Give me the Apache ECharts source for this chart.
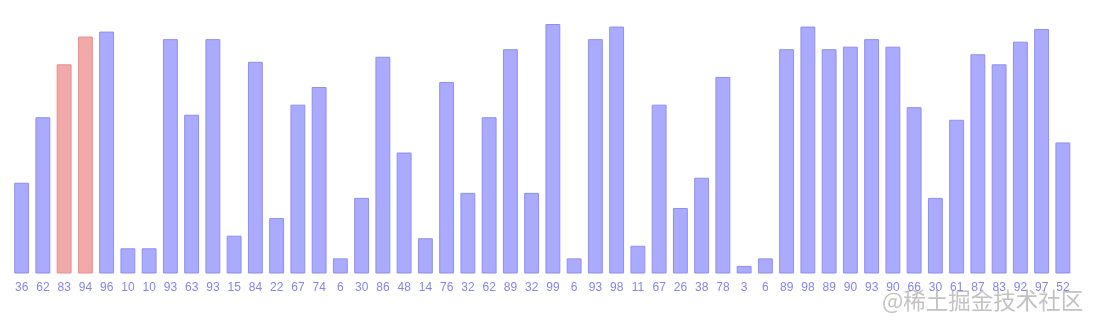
<!DOCTYPE html>
<html><head><meta charset="utf-8">
<script src="https://cdn.jsdelivr.net/npm/echarts@6/dist/echarts.min.js"></script>
<style>html,body{margin:0;padding:0;background:#fff}#c{width:1094px;height:323px}</style>
</head><body><div id="c"></div>
<script>
const values = [36,62,83,94,96,10,10,93,63,93,15,84,22,67,74,6,30,86,48,14,76,32,62,89,32,99,6,93,98,11,67,26,38,78,3,6,89,98,89,90,93,90,66,30,61,87,83,92,97,52];
const categories = values.map((v, i) => String(i));
const highlighted = [2, 3];
const watermark = '@稀土掘金技术社区';

const chart = echarts.init(document.getElementById('c'));
chart.setOption({
  animation: false,
  grid: { left: 11, right: 20.5, top: 21.5, bottom: 49.5 },
  xAxis: {
    type: 'category',
    data: categories,
    axisLine: { show: false },
    axisTick: { show: false },
    axisLabel: {
      interval: 0, margin: 8, fontSize: 12, color: '#8585ea',
      fontFamily: 'Helvetica, Arial, sans-serif',
      formatter: (v, i) => String(values[i])
    }
  },
  yAxis: { type: 'value', min: 0, max: 100, show: false, splitLine: { show: false } },
  series: [{
    type: 'bar',
    barCategoryGap: '30%',
    data: values.map((v, i) => highlighted.includes(i)
      ? { value: v, itemStyle: { color: '#f2a9a9', borderColor: '#e88c8c', borderWidth: 1 } }
      : { value: v }),
    itemStyle: { color: '#aaaaff', borderColor: '#8f8fee', borderWidth: 1 }
  }],
  graphic: [{
    type: 'text', left: 882, top: 289,
    style: { text: watermark, fontSize: 22.5, fill: '#c2c2c2', fontFamily: 'Noto Sans CJK SC' }
  }]
});
</script></body></html>
